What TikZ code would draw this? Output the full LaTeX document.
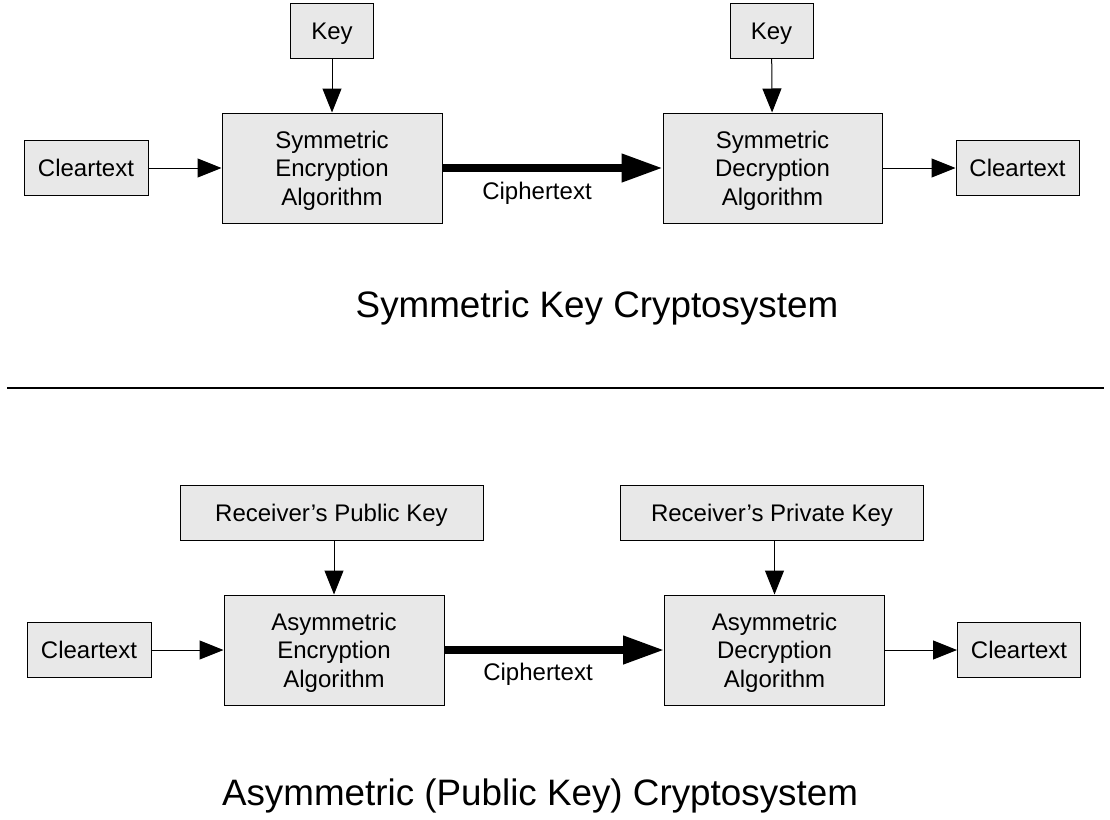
\documentclass[tikz,border=0pt]{standalone}
\usepackage{fontspec}
\setmainfont{Liberation Sans}
\usetikzlibrary{arrows.meta}
\definecolor{boxgray}{RGB}{232,232,232}

\begin{document}
\begin{tikzpicture}[x=1pt, y=-1pt,
	  box/.style={draw=black, fill=boxgray, line width=1pt, inner sep=0pt, align=center, text depth=0pt, font=\fontsize{24}{28.5}\selectfont},
	  thinarrow/.style={black, line width=1pt, -{Triangle[length=24pt, width=19pt]}},
	  fatarrow/.style={black, line width=7.5pt, -{Triangle[length=41pt, width=27pt]}},
	  lbl/.style={anchor=base, font=\fontsize{24}{28.5}\selectfont},
	  title/.style={anchor=base, font=\fontsize{36.8}{42}\selectfont}]
	  \useasboundingbox (0,0) rectangle (1110,819);
	  % symmetric key cryptosystem
	  \node[box, minimum width=124pt, minimum height=55pt] (clearA) at (86,168) {Cleartext};
	  \node[box, minimum width=83pt, minimum height=55pt] (keyA) at (332,31) {Key};
	  \node[box, minimum width=220pt, minimum height=110pt] (encA) at (332,168) {Symmetric\\Encryption\\Algorithm};
	  \node[box, minimum width=219pt, minimum height=110pt] (decA) at (772.5,168) {Symmetric\\Decryption\\Algorithm};
	  \node[box, minimum width=83pt, minimum height=55pt] (keyB) at (771.5,31) {Key};
	  \node[box, minimum width=123pt, minimum height=55pt] (clearB) at (1017.5,168) {Cleartext};
	  \draw[thinarrow] (clearA) -- (encA);
	  \draw[thinarrow] (keyA) -- (encA);
	  \draw[thinarrow] (keyB) -- (decA);
	  \draw[thinarrow] (decA) -- (clearB);
	  \draw[fatarrow] (encA) -- (decA);
	  \node[lbl] (cipherA) at (537,199) {Ciphertext};
	  \node[title] (titleA) at (597,317) {Symmetric Key Cryptosystem};
	  \draw[black, line width=2.5pt] (7,388) -- (1104,388);
	  % asymmetric (public key) cryptosystem
	  \node[box, minimum width=124pt, minimum height=55pt] (clearC) at (89,650) {Cleartext};
	  \node[box, minimum width=303pt, minimum height=55pt] (pubkey) at (331.5,513) {Receiver’s Public Key};
	  \node[box, minimum width=220pt, minimum height=110pt] (encB) at (334,650) {Asymmetric\\Encryption\\Algorithm};
	  \node[box, minimum width=220pt, minimum height=110pt] (decB) at (774.5,650) {Asymmetric\\Decryption\\Algorithm};
	  \node[box, minimum width=303pt, minimum height=55pt] (privkey) at (772,513) {Receiver’s Private Key};
	  \node[box, minimum width=123pt, minimum height=55pt] (clearD) at (1019,650) {Cleartext};
	  \draw[thinarrow] (clearC) -- (encB);
	  \draw[thinarrow] (pubkey.south -| encB.north) -- (encB);
	  \draw[thinarrow] (privkey.south -| decB.north) -- (decB);
	  \draw[thinarrow] (decB) -- (clearD);
	  \draw[fatarrow] (encB) -- (decB);
	  \node[lbl] (cipherB) at (538,680) {Ciphertext};
	  \node[title] (titleB) at (540,805) {Asymmetric (Public Key) Cryptosystem};
	\end{tikzpicture}
\end{document}
